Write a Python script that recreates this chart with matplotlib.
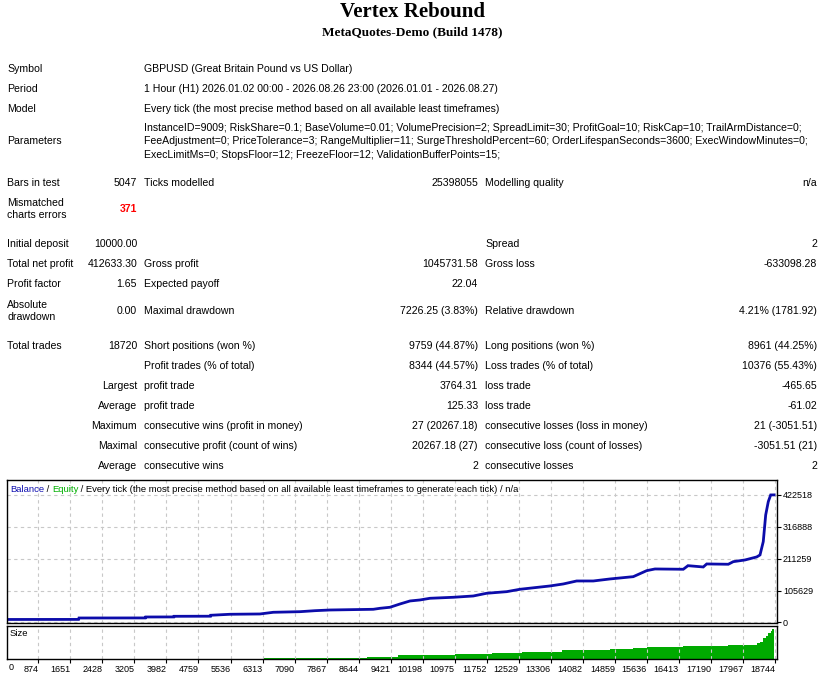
import matplotlib.pyplot as plt
import numpy as np

title = "Vertex Rebound"
subtitle = "MetaQuotes-Demo (Build 1478)"

info_rows = [
    ("Symbol", "GBPUSD (Great Britain Pound vs US Dollar)"),
    ("Period", "1 Hour (H1) 2026.01.02 00:00 - 2026.08.26 23:00 (2026.01.01 - 2026.08.27)"),
    ("Model", "Every tick (the most precise method based on all available least timeframes)"),
]
param_lines = [
    "InstanceID=9009; RiskShare=0.1; BaseVolume=0.01; VolumePrecision=2; SpreadLimit=30; ProfitGoal=10; RiskCap=10; TrailArmDistance=0;",
    "FeeAdjustment=0; PriceTolerance=3; RangeMultiplier=11; SurgeThresholdPercent=60; OrderLifespanSeconds=3600; ExecWindowMinutes=0;",
    "ExecLimitMs=0; StopsFloor=12; FreezeFloor=12; ValidationBufferPoints=15;",
]
bars_row = ["Bars in test", "5047", "Ticks modelled", "25398055", "Modelling quality", "n/a"]
mismatch_label = "Mismatched\ncharts errors"
mismatch_value = "371"

stat_rows = [
    ["Initial deposit", "10000.00", "", "", "Spread", "2"],
    ["Total net profit", "412633.30", "Gross profit", "1045731.58", "Gross loss", "-633098.28"],
    ["Profit factor", "1.65", "Expected payoff", "22.04", "", ""],
    ["Absolute\ndrawdown", "0.00", "Maximal drawdown", "7226.25 (3.83%)", "Relative drawdown", "4.21% (1781.92)"],
    ["Total trades", "18720", "Short positions (won %)", "9759 (44.87%)", "Long positions (won %)", "8961 (44.25%)"],
    ["", "", "Profit trades (% of total)", "8344 (44.57%)", "Loss trades (% of total)", "10376 (55.43%)"],
    ["", "Largest", "profit trade", "3764.31", "loss trade", "-465.65"],
    ["", "Average", "profit trade", "125.33", "loss trade", "-61.02"],
    ["", "Maximum", "consecutive wins (profit in money)", "27 (20267.18)", "consecutive losses (loss in money)", "21 (-3051.51)"],
    ["", "Maximal", "consecutive profit (count of wins)", "20267.18 (27)", "consecutive loss (count of losses)", "-3051.51 (21)"],
    ["", "Average", "consecutive wins", "2", "consecutive losses", "2"],
]

trades = [0, 1850, 1860, 3470, 3478, 4160, 4165, 5050, 5055, 5523, 6251, 6574,
          7221, 7585, 7949, 8999, 9162, 9404, 9647, 9890, 10132, 10375, 10940,
          11425, 11750, 12235, 12558, 13286, 13608, 13933, 14336, 14741, 15306,
          15631, 15833, 16519, 16633, 17004, 17087, 17611, 17732, 18016, 18300,
          18380, 18459, 18518, 18581, 18639, 18720]
balance = [10000, 10200, 14900, 15100, 18200, 18400, 20500, 20800, 23900, 27200,
           28200, 33800, 35800, 39100, 41400, 43700, 47000, 50400, 61300, 71300,
           74600, 80200, 83500, 87800, 96800, 102100, 110000, 121000, 127600,
           137500, 137500, 144200, 151800, 171700, 177300, 176300, 188200, 183900,
           193900, 192900, 201500, 207100, 217100, 223700, 267800, 356300, 400400,
           422500, 422633]

size_trades = [0, 6331, 8839, 9404, 9598, 10981, 11871, 12599, 13570, 14741, 15306,
               15631, 16519, 17611, 18300, 18380, 18459, 18518, 18581, 18639, 18680, 18720]
size_lots = [0, 0.3, 0.6, 0.65, 1.1, 1.4, 1.8, 2.2, 2.6, 2.9, 3.2,
             3.6, 3.9, 4.2, 4.7, 5.0, 6.2, 7.0, 7.8, 8.4, 9.0, 9.0]

x_ticks = [874, 1651, 2428, 3205, 3982, 4759, 5536, 6313, 7090, 7867, 8644, 9421,
           10198, 10975, 11752, 12529, 13306, 14082, 14859, 15636, 16413, 17190,
           17967, 18744]
y_ticks = [0, 105629, 211259, 316888, 422518]

# ---- figure ----
W, H = 835, 678
fig = plt.figure(figsize=(W / 100, H / 100), dpi=100)
FONT = 'Liberation Sans'
FS = 7.55


def put(x, y, s, ha='left', **kw):
    fig.text(x / W, 1 - y / H, s, ha=ha, va='center',
             fontsize=kw.pop('fontsize', FS), family=kw.pop('family', FONT),
             linespacing=1.25, **kw)


fig.text(412 / W, 1 - 12 / H, title, ha='center', va='center',
         family='Liberation Serif', weight='bold', fontsize=15)
fig.text(412 / W, 1 - 32 / H, subtitle, ha='center', va='center',
         family='Liberation Serif', weight='bold', fontsize=9.5)

col_x = [7, 137, 144, 478, 485, 817]
col_ha = ['left', 'right', 'left', 'right', 'left', 'right']

for (lab, val), y in zip(info_rows, [69, 89, 109]):
    put(7, y, lab)
    put(144, y, val)
put(7, 141.5, "Parameters")
for line, y in zip(param_lines, [128, 141.5, 155]):
    put(144, y, line)

for cell, x, ha in zip(bars_row, col_x, col_ha):
    put(x, 182.5, cell, ha=ha)
put(7, 209, mismatch_label)
put(137, 209, mismatch_value, ha='right', color='#FF0000', weight='bold')

row_y = [244, 264, 284, 311, 346, 366, 386, 406, 426, 446, 466]
for row, y in zip(stat_rows, row_y):
    for cell, x, ha in zip(row, col_x, col_ha):
        if cell:
            put(x, y, cell, ha=ha)

# ---- balance chart ----
left, right = 6.7, 776.7
ax = fig.add_axes([left / W, 1 - 622.7 / H, (right - left) / W, (622.7 - 480) / H])
ax2 = fig.add_axes([left / W, 1 - 659 / H, (right - left) / W, (659 - 625.5) / H])

xmin, xmax = 107, 18785
grid_kw = dict(color='#C8C8C8', linestyle=(0, (3, 3)), linewidth=0.8)

ax.plot(trades, balance, color='#0C0CAA', linewidth=2.0, solid_joinstyle='miter')
ax.set_xlim(xmin, xmax)
ax.set_ylim(-700, 472000)
ax.set_xticks(x_ticks)
ax.tick_params(axis='x', length=0, labelbottom=False)
ax.yaxis.tick_right()
ax.set_yticks(y_ticks)
ax.set_yticklabels([str(v) for v in y_ticks], family=FONT, fontsize=6.5)
ax.tick_params(axis='y', length=3, width=0.8, pad=1.5)
ax.grid(True, **grid_kw)

leg = ax.text(0.004, 0.935, "Balance", transform=ax.transAxes, color='#1010B0',
              family=FONT, fontsize=6.8, va='center', ha='left')
prev = leg
for s, c in [(" / ", 'black'), ("Equity", '#00B000'),
             (" / Every tick (the most precise method based on all available least timeframes to generate each tick) / n/a", 'black')]:
    prev = ax.annotate(s, xy=(1, 0), xycoords=prev, va='bottom', ha='left',
                       color=c, family=FONT, fontsize=6.8)

ax2.fill_between(size_trades, size_lots, 0, step='post', color='#00AA00', linewidth=0)
ax2.set_xlim(xmin, xmax)
ax2.set_ylim(0, 10)
ax2.set_yticks([])
ax2.set_xticks(x_ticks)
ax2.set_xticklabels([str(v) for v in x_ticks], family=FONT, fontsize=6.5, ha='right')
ax2.tick_params(axis='x', length=3, width=0.8, pad=1.5)
ax2.grid(True, axis='x', **grid_kw)
ax2.text(0.004, 0.75, "Size", transform=ax2.transAxes, family=FONT, fontsize=6.8,
         va='center', ha='left')
ax2.text(0.002, -0.12, "0", transform=ax2.transAxes, family=FONT, fontsize=6.5,
         va='top', ha='left')

for a in (ax, ax2):
    for sp in a.spines.values():
        sp.set_linewidth(1.0)
        sp.set_color('black')

fig.savefig('out.png', dpi=100)
